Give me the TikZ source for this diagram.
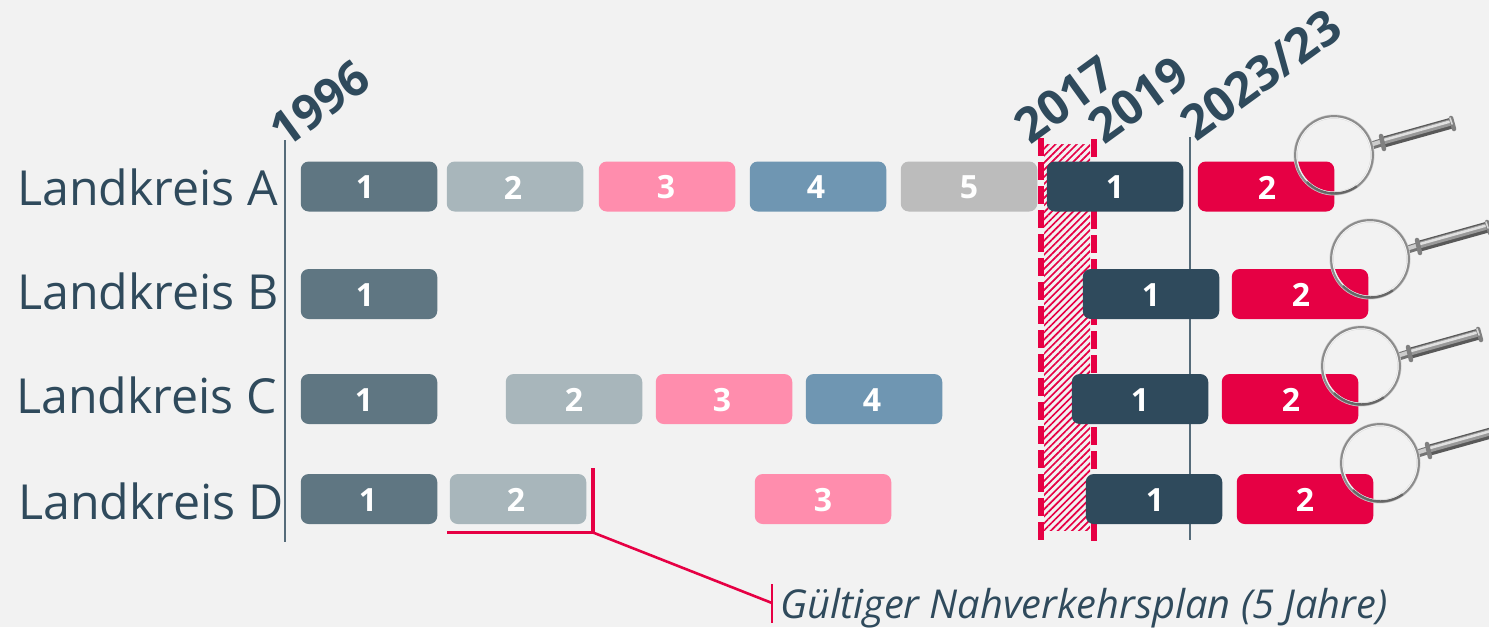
\documentclass[tikz,border=0pt]{standalone}
\usepackage{fontspec}
\setmainfont{Open Sans}
\usetikzlibrary{patterns.meta}
\definecolor{bgc}{HTML}{F2F2F2}
\definecolor{ink}{HTML}{2F4A5C}
\definecolor{slate}{HTML}{5F7682}
\definecolor{pale}{HTML}{A8B6BB}
\definecolor{rosa}{HTML}{FF8DAD}
\definecolor{steel}{HTML}{6F96B2}
\definecolor{grau}{HTML}{BCBCBC}
\definecolor{rot}{HTML}{E60044}
\tikzset{
  barbox/.style={rounded corners=8pt,inner sep=0pt,outer sep=0pt,minimum width=136.5pt,minimum height=50pt,draw=none},
  bartext/.style={text=white,font=\bfseries\fontsize{32}{32}\selectfont,inner sep=0pt},
  kreis/.style={text=ink,font=\fontsize{48.3}{48}\selectfont,anchor=base west,inner sep=0pt},
  year/.style={text=ink,font=\bfseries\fontsize{48}{48}\selectfont,anchor=base west,inner sep=0pt,rotate=36},
  timeline/.style={draw=ink!80!bgc,line width=1.2pt},
  cut/.style={draw=rot,line width=6pt,dash pattern=on 18pt off 6pt},
  mark line/.style={draw=rot,line width=2.6pt},
}
% name, x centre, y centre, colour, text, text x
\newcommand{\planbar}[6]{
  \node[barbox,fill=#4] (#1) at (#2,#3) {};
  \node[bartext] (#1t) at (#6,#3+1) {#5};
}
\newcommand{\lupe}[3]{% name, centre x, centre y
  \begin{scope}[shift={(#2,#3)}]
    \coordinate (#1) at (0,0);
    % neck
    \draw[line width=8pt,draw=black!55] (36,-9) -- (49,-13);
    \draw[line width=4pt,draw=black!20] (36,-10) -- (49,-14);
    % handle
    \draw[line width=11pt,draw=black!65] (50,-13) -- (118,-32);
    \draw[line width=6.5pt,draw=black!40] (50,-14) -- (118,-33);
    \draw[line width=2.5pt,draw=black!12] (50,-15) -- (118,-34);
    % flange and end cap
    \draw[line width=4.5pt,draw=black!50,line cap=round] (47,-19) -- (50,-6);
    \draw[line width=4.5pt,draw=black!50,line cap=round] (117,-37) -- (120,-26);
    \draw[line width=1.6pt,draw=black!15,line cap=round] (116,-37) -- (118,-31);
    % ring
    \draw[line width=4pt,draw=black!20] (0,0) circle[radius=38.5];
    \draw[line width=2.2pt,draw=black!45] (0,0) circle[radius=38.8];
    \draw[line width=1pt,draw=white!90!gray] (0,0) circle[radius=37.2];
    \draw[line width=2.2pt,draw=black!60] (-27,27) arc[start angle=135,end angle=55,radius=38.8];
  \end{scope}
}
\begin{document}
\begin{tikzpicture}[x=1pt,y=-1pt]
\useasboundingbox (0,0) rectangle (1489,627);
\fill[bgc] (0,0) rectangle (1489,627);
% hatch
\fill[pattern={Lines[angle=45,distance=5pt,line width=1.7pt]},pattern color=rot] (1044,144) rectangle (1090,530);
% timelines
\coordinate (t1a) at (285,140); \coordinate (t1b) at (285,542);
\coordinate (t2a) at (1190,137); \coordinate (t2b) at (1190,540);
\coordinate (c1a) at (1041,138); \coordinate (c1b) at (1041,542);
\coordinate (c2a) at (1094,139); \coordinate (c2b) at (1094,542);
\draw[timeline] (t1a) -- (t1b);
\draw[timeline] (t2a) -- (t2b);
\draw[cut] (c1a) -- (c1b);
\draw[cut] (c2a) -- (c2b);
% labels
\node[kreis] (la) at (17,205) {Landkreis A};
\node[kreis] (lb) at (17,309) {Landkreis B};
\node[kreis] (lc) at (16,413) {Landkreis C};
\node[kreis] (ld) at (18,519) {Landkreis D};
\node[year] (y96) at (285,150) {1996};
\node[year] (y17) at (1030,146) {2017};
\node[year] (y19) at (1104,146) {2019};
\node[year] (y23) at (1196,143) {2023/23};
% bars A
\planbar{a1}{369}{186.5}{slate}{1}{365}
\planbar{a2}{515}{186.5}{pale}{2}{513}
\planbar{a3}{667}{186.5}{rosa}{3}{666}
\planbar{a4}{818}{186.5}{steel}{4}{816}
\planbar{a5}{969}{186.5}{grau}{5}{969}
\planbar{a6}{1115}{186.5}{ink}{1}{1115}
\planbar{a7}{1266}{186.5}{rot}{2}{1267}
% bars B
\planbar{b1}{369}{294}{slate}{1}{365}
\planbar{b6}{1151}{294}{ink}{1}{1151}
\planbar{b7}{1300}{294}{rot}{2}{1301}
% bars C
\planbar{c1}{369}{399}{slate}{1}{364}
\planbar{c2}{574}{399}{pale}{2}{574}
\planbar{c3}{724}{399}{rosa}{3}{722}
\planbar{c4}{874}{399}{steel}{4}{872}
\planbar{c6}{1140}{399}{ink}{1}{1140}
\planbar{c7}{1290}{399}{rot}{2}{1291}
% bars D
\planbar{d1}{369}{499}{slate}{1}{368}
\planbar{d2}{518}{499}{pale}{2}{516}
\planbar{d3}{823}{499}{rosa}{3}{823}
\planbar{d6}{1154}{499}{ink}{1}{1155}
\planbar{d7}{1305}{499}{rot}{2}{1305}
% magnifiers
\lupe{ma}{1334}{155}
\lupe{mb}{1370}{259}
\lupe{mc}{1361}{366}
\lupe{md}{1380}{463}
% bracket and note
\coordinate (br1) at (447,532.5);
\coordinate (br2) at (593,532.5);
\coordinate (br3) at (593,468);
\coordinate (tk1) at (772,584);
\coordinate (tk2) at (772,623);
\coordinate (tk0) at (772,603);
\draw[mark line,line width=3.6pt] (br1) -- (br2) -- (br3);
\draw[mark line] (br2) -- (tk0);
\draw[mark line,line width=2pt] (tk1) -- (tk2);
\node[text=ink,font=\itshape\fontsize{39.8}{40}\selectfont,anchor=base west,inner sep=0pt] (note) at (780,618) {Gültiger Nahverkehrsplan (5 Jahre)};
\end{tikzpicture}
\end{document}
